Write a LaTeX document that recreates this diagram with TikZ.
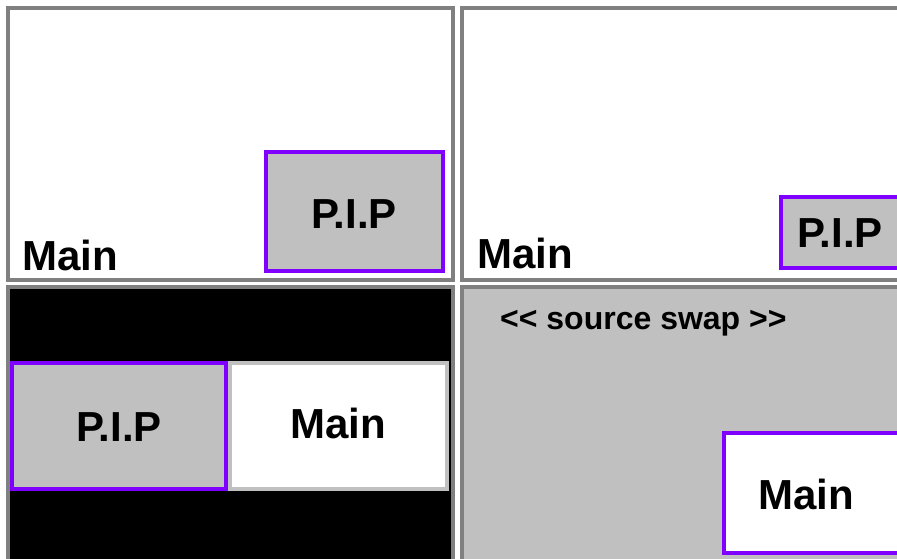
\documentclass[tikz,border=0pt]{standalone}
\usepackage{fontspec}
\setmainfont{Liberation Sans}
\definecolor{framegray}{HTML}{808080}
\definecolor{pipfill}{HTML}{C0C0C0}
\definecolor{pippurple}{HTML}{8000FF}
\begin{document}
\begin{tikzpicture}[x=1pt,y=-1pt]
          \useasboundingbox (0,0) rectangle (897,558);
          \clip (0,0) rectangle (897,558);
          \tikzstyle{panel} = [draw=framegray, line width=4pt]
          \tikzstyle{pipbox} = [draw=pippurple, line width=3.5pt, fill=pipfill]
          \tikzstyle{mainbox} = [line width=3.5pt, fill=white]
          \tikzstyle{big} = [inner sep=0pt, font=\fontsize{42}{42}\selectfont\bfseries]
          \tikzstyle{small} = [inner sep=0pt, font=\fontsize{32}{32}\selectfont\bfseries]
          \draw[panel, fill=white] (8,8) rectangle (453,280);
          \draw[panel, fill=white] (462,8) rectangle (910,280);
          \draw[panel, fill=black] (8,287) rectangle (453,570);
          \draw[panel, fill=pipfill] (462,287) rectangle (910,570);
          \draw[pipbox] (266,152) rectangle (443,271);
          \draw[pipbox] (781,197) rectangle (910,268);
          \draw[pipbox] (12,363) rectangle (226,489);
          \draw[mainbox, draw=pipfill] (230,363) rectangle (447,489);
          \draw[mainbox, draw=pippurple] (724,433) rectangle (910,553);
          \node[big, anchor=base west](1) at (22,270) {Main};
          \node[big](2) at (354,214) {P.I.P};
          \node[big, anchor=base west](3) at (477,268) {Main};
          \node[big](4) at (840,233) {P.I.P};
          \node[big](5) at (119,427) {P.I.P};
          \node[big](6) at (338,423) {Main};
          \node[small, anchor=base west](7) at (500,329) {{<}{<} source swap {>}{>}};
          \node[big](8) at (806,494) {Main};
          \end{tikzpicture}
\end{document}
